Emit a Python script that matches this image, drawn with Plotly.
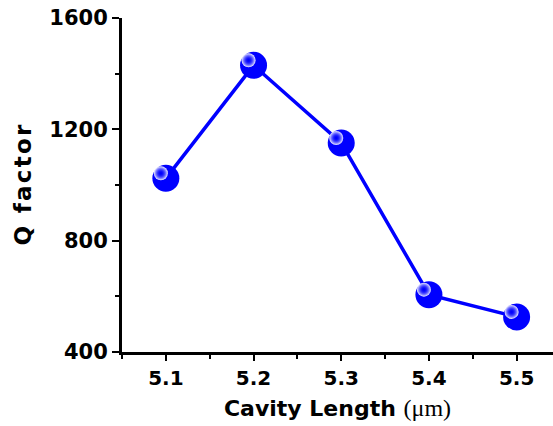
import plotly.graph_objects as go

cavity_length = [5.1, 5.2, 5.3, 5.4, 5.5]
q_factor = [1024, 1430, 1151, 606, 526]
x_ticks = [5.1, 5.2, 5.3, 5.4, 5.5]
y_ticks = [400, 800, 1200, 1600]

BLUE = "#0000ff"
xr = [5.05, 5.5415]
yr = [400, 1600]
dx = 0.0057   # ~5px shift for sphere highlight
dy = 18.0

fig = go.Figure()
fig.add_trace(go.Scatter(
    x=cavity_length, y=q_factor, mode="lines+markers",
    line=dict(color=BLUE, width=3.5),
    marker=dict(size=27, color=BLUE, line=dict(width=0)),
    showlegend=False, cliponaxis=False,
))
fig.add_trace(go.Scatter(
    x=cavity_length, y=q_factor, mode="markers",
    xaxis="x2", yaxis="y2",
    marker=dict(size=14, color="#f4f4ff",
                gradient=dict(type="radial", color="rgba(0,0,255,0)"),
                line=dict(width=0)),
    showlegend=False, cliponaxis=False, hoverinfo="skip",
))

FAM = "DejaVu Sans, Liberation Sans, sans-serif"
font_b = dict(family=FAM, size=21, color="black", weight="bold")
hs = "\u200a"
ytitle = hs.join(list("Q factor"))
xtitle = "Cavity Length"

fig.update_layout(
    width=553, height=426,
    margin=dict(l=122, r=0, t=18, b=74),
    plot_bgcolor="white", paper_bgcolor="white",
    xaxis=dict(
        range=xr, tickvals=x_ticks, ticktext=[f"{v:.1f}" for v in x_ticks],
        showline=True, linecolor="black", linewidth=3, mirror=False,
        ticks="outside", ticklen=6, tickwidth=2, tickcolor="black",
        ticklabelstandoff=0,
        minor=dict(ticks="outside", ticklen=4, tickwidth=2, tickcolor="black",
                   tickvals=[5.05, 5.15, 5.25, 5.35, 5.45]),
        showgrid=False, zeroline=False, tickfont=dict(font_b, size=20),
        title=dict(text=xtitle + " <span style='font-family:Liberation Serif;font-weight:normal;font-size:24px'>(μm)</span>",
                   font=dict(font_b, size=22), standoff=12),
    ),
    yaxis=dict(
        range=yr, tickvals=y_ticks,
        showline=True, linecolor="black", linewidth=3,
        ticks="outside", ticklen=7, tickwidth=2, tickcolor="black",
        minor=dict(ticks="outside", ticklen=4, tickwidth=2, tickcolor="black",
                   tickvals=[600, 1000, 1400]),
        showgrid=False, zeroline=False, tickfont=font_b,
        title=dict(text=ytitle, font=dict(font_b, size=23), standoff=12),
    ),
    xaxis2=dict(range=[xr[0] + dx, xr[1] + dx], overlaying="x", visible=False),
    yaxis2=dict(range=[yr[0] - dy, yr[1] - dy], overlaying="y", visible=False),
)

fig.write_html("out.html")
